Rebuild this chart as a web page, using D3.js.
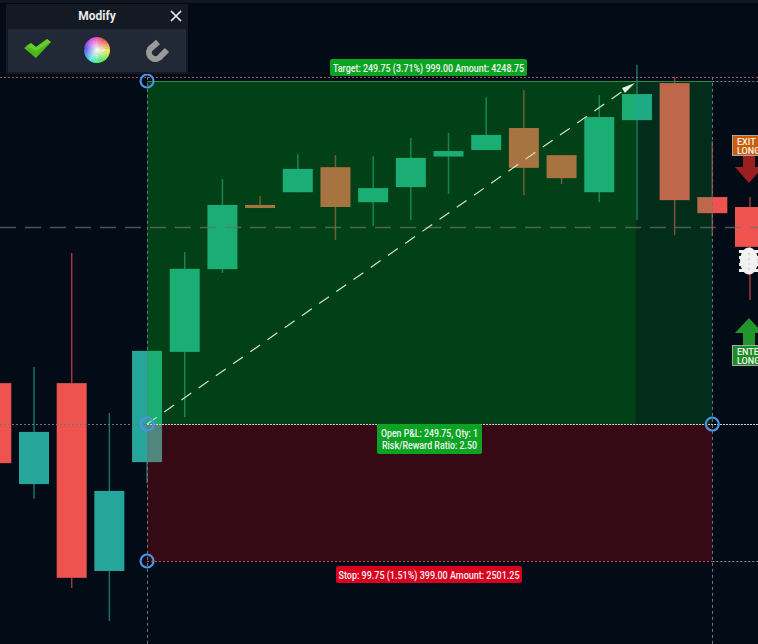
<!DOCTYPE html>
<html>
<head>
<meta charset="utf-8">
<script src="https://cdn.jsdelivr.net/npm/d3@7"></script>
<style>
  html, body { margin: 0; padding: 0; background: #030b16; overflow: hidden; }
  svg { display: block; }
  text { font-family: Roboto, sans-serif; }
</style>
</head>
<body>
<svg id="chart" width="758" height="644"></svg>
<script>
var opens  = [6761.75, 6688.25, 6761.75, 6625.00, 6704.25, 6784.50, 6844.75, 6891.50, 6900.75, 6919.00, 6893.50, 6904.50, 6926.75, 6931.50, 6947.50, 6927.75, 6900.75, 6953.25, 6980.25, 6897.25, 6890.00];
var highs  = [6775.00, 6773.50, 6856.50, 6740.00, 6785.25, 6857.25, 6910.50, 6898.00, 6928.50, 6927.75, 6927.00, 6940.25, 6944.00, 6970.00, 6975.25, 6927.75, 6971.50, 6993.50, 6984.75, 6938.00, 6897.25];
var lows   = [6690.00, 6677.50, 6612.50, 6588.50, 6689.00, 6737.00, 6842.00, 6889.25, 6900.75, 6866.00, 6876.25, 6880.50, 6899.50, 6931.50, 6898.75, 6906.75, 6893.50, 6880.50, 6869.50, 6869.00, 6822.25];
var closes = [6703.50, 6726.25, 6620.00, 6683.25, 6785.25, 6845.00, 6891.50, 6889.25, 6917.75, 6890.00, 6903.75, 6925.75, 6930.75, 6942.50, 6918.50, 6911.00, 6955.50, 6972.25, 6895.00, 6885.50, 6861.00];

var entryPrice = 6732.00;
var targetPrice = 6981.75;
var stopPrice = 6632.25;
var topLine = 6984.75;
var midLine = 6875.50;
var startIndex = 4;
var cursorIndex = 17;
var endIndex = 19;

var targetText = "Target: 249.75 (3.71%) 999.00 Amount: 4248.75";
var stopText = "Stop: 99.75 (1.51%) 399.00 Amount: 2501.25";
var pnlText = ["Open P&L: 249.75, Qty: 1", "Risk/Reward Ratio: 2.50"];

var svg = d3.select("#chart");
var W = 758, H = 644;

var x = d3.scaleLinear().domain([1, 20]).range([34, 750]);
var y = d3.scaleLinear().domain([stopPrice, targetPrice]).range([561, 81]);

svg.append("rect").attr("width", W).attr("height", H).attr("fill", "#030b16");
svg.append("rect").attr("width", W).attr("height", 3).attr("fill", "#10171f");

var candles = opens.map(function (o, i) {
    return { i: i, o: o, h: highs[i], l: lows[i], c: closes[i] };
});
function candleColor(d) { return d.c >= d.o ? "#26a69a" : "#ef5350"; }

// Candles
var candleG = svg.append("g");
candleG.selectAll(".wick")
    .data(candles)
    .enter().append("line")
    .attr("class", "wick")
    .attr("x1", function (d) { return x(d.i); })
    .attr("x2", function (d) { return x(d.i); })
    .attr("y1", function (d) { return y(d.h); })
    .attr("y2", function (d) { return y(d.l); })
    .attr("stroke", candleColor)
    .attr("stroke-opacity", 0.65)
    .attr("stroke-width", 1.5);
candleG.selectAll(".body")
    .data(candles)
    .enter().append("rect")
    .attr("class", "body")
    .attr("x", function (d) { return x(d.i) - 15; })
    .attr("width", 30)
    .attr("y", function (d) { return y(Math.max(d.o, d.c)); })
    .attr("height", function (d) { return Math.abs(y(d.o) - y(d.c)); })
    .attr("fill", candleColor);

// Profit / loss zones
var x0 = x(startIndex), x1 = x(cursorIndex) - 1, x2 = x(endIndex);
svg.append("rect").attr("x", x0).attr("y", y(targetPrice)).attr("width", x1 - x0)
    .attr("height", y(entryPrice) - y(targetPrice)).attr("fill", "rgb(0,190,30)").attr("opacity", 0.3);
svg.append("rect").attr("x", x1).attr("y", y(targetPrice)).attr("width", x2 - x1)
    .attr("height", y(entryPrice) - y(targetPrice)).attr("fill", "rgb(0,183,50)").attr("opacity", 0.2);
svg.append("rect").attr("x", x0).attr("y", y(entryPrice)).attr("width", x2 - x0)
    .attr("height", y(stopPrice) - y(entryPrice)).attr("fill", "rgb(255,10,20)").attr("opacity", 0.2);

// Level lines
function hline(price, x1, x2, color, dash, w, op) {
    svg.append("line").attr("x1", x1).attr("x2", x2).attr("y1", Math.round(y(price)) + 0.5).attr("y2", Math.round(y(price)) + 0.5)
        .attr("stroke", color).attr("stroke-width", w || 1)
        .attr("stroke-dasharray", dash).attr("stroke-opacity", op || 1);
}
hline(midLine, 0, W, "#6b7272", "16 9", 1.5, 0.7);
hline(topLine, 0, W, "#c9616c", "2 2", 1, 0.8);
hline(targetPrice, x0, x2, "#2e8b47", null, 1);
hline(targetPrice, x2, W, "#7d8288", "2 2", 1);
hline(entryPrice, x0, W, "#cfd4cf", "2 1", 1);
hline(entryPrice, 0, x0, "#6f747a", "2 2", 1);
hline(stopPrice, x0, x2, "#c94a58", "2 2", 1);
hline(stopPrice, x2, W, "#8a8f96", "2 2", 1);

svg.selectAll(".vline")
    .data([startIndex, endIndex])
    .enter().append("line")
    .attr("class", "vline")
    .attr("x1", function (d) { return Math.round(x(d)) + 0.5; })
    .attr("x2", function (d) { return Math.round(x(d)) + 0.5; })
    .attr("y1", y(topLine))
    .attr("y2", H)
    .attr("stroke", "#6f757c")
    .attr("stroke-dasharray", "3 3");

// Diagonal arrow
var ax0 = x(startIndex), ay0 = y(entryPrice), ax1 = x(cursorIndex) - 2, ay1 = y(targetPrice) + 2;
svg.append("line").attr("x1", ax0).attr("y1", ay0).attr("x2", ax1 - 12).attr("y2", ay1 + 8)
    .attr("stroke", "#cfe6cf").attr("stroke-width", 1.2).attr("stroke-dasharray", "12 9");
svg.append("path")
    .attr("d", "M" + ax1 + "," + ay1 + "L" + (ax1 - 13) + "," + (ay1 + 5) + "L" + (ax1 - 10) + "," + (ay1 + 10) + "Z")
    .attr("fill", "#e6f2e6");

// Handles
svg.selectAll(".handle")
    .data([[startIndex, targetPrice], [startIndex, entryPrice], [startIndex, stopPrice], [endIndex, entryPrice]])
    .enter().append("circle")
    .attr("class", "handle")
    .attr("cx", function (d) { return x(d[0]); })
    .attr("cy", function (d) { return y(d[1]); })
    .attr("r", 6.5)
    .attr("fill", "none")
    .attr("stroke", "#4a95e0")
    .attr("stroke-width", 2.2);

// Labels
function label(lines, widths, cx, top, w, h, fill) {
    svg.append("rect").attr("x", cx - w / 2).attr("y", top).attr("width", w).attr("height", h)
        .attr("rx", 2).attr("fill", fill);
    lines.forEach(function (t, i) {
        svg.append("text").attr("x", cx).attr("y", top + 12.5 + i * 12)
            .attr("text-anchor", "middle").attr("fill", "#f2f7f2")
            .attr("font-size", 10).attr("font-weight", 500)
            .attr("textLength", widths[i]).attr("lengthAdjust", "spacingAndGlyphs").text(t);
    });
}
label([targetText], [191], 428.5, 59, 197, 17, "#0aa322");
label(pnlText, [97, 95], 429.5, 424, 105, 30, "#0aa322");
label([stopText], [181], 429, 566, 186, 17, "#d9001f");

// Signal markers at the right edge
svg.append("path").attr("d", "M743,156h12v11h8l-14,16l-14,-16h8z").attr("fill", "#9a1f1f");
svg.append("rect").attr("x", 732.5).attr("y", 135.5).attr("width", 40).attr("height", 20)
    .attr("fill", "#cc5c00").attr("stroke", "#a8a8a8");
svg.append("path").attr("d", "M743,345v-12h-8l14,-15l14,15h-8v12z").attr("fill", "#22952c");
svg.append("rect").attr("x", 732.5).attr("y", 345.5).attr("width", 40).attr("height", 20)
    .attr("fill", "#1a8e22").attr("stroke", "#a8a8a8");
[["EXIT", 145], ["LONG", 154], ["ENTER", 355], ["LONG", 364]].forEach(function (d) {
    svg.append("text").attr("x", 737).attr("y", d[1]).attr("fill", "#f4f4f4")
        .attr("font-size", 9).attr("font-weight", 500).text(d[0]);
});

// White bug marker
var bug = svg.append("g").attr("fill", "#f2f2f2");
bug.append("ellipse").attr("cx", 749).attr("cy", 261).attr("rx", 9).attr("ry", 13.5);
[250, 256, 263, 269].forEach(function (v) {
    bug.append("rect").attr("x", 739).attr("y", v).attr("width", 20).attr("height", 3);
});
bug.append("line").attr("x1", 749).attr("x2", 749).attr("y1", 253).attr("y2", 270)
    .attr("stroke", "#b8b8bc").attr("stroke-dasharray", "2 3");

// Modify panel
var panel = svg.append("g");
panel.append("rect").attr("x", 6).attr("y", 4).attr("width", 182).attr("height", 70).attr("fill", "#131a24");
panel.append("rect").attr("x", 8).attr("y", 29).attr("width", 178).attr("height", 43).attr("fill", "#212936");
panel.append("text").attr("x", 97).attr("y", 20).attr("text-anchor", "middle")
    .attr("fill", "#e8e8e8").attr("font-size", 12).attr("font-weight", 700).text("Modify");
panel.append("path").attr("d", "M171,11L181,21M181,11L171,21").attr("stroke", "#f0f0f0").attr("stroke-width", 1.6);

// check icon
panel.append("path").attr("d", "M24,48L31,43L36,47L47,39L51,42L36,58Z").attr("fill", "#4cb81a");
panel.append("path").attr("d", "M31,43L36,47L47,39L51,42L36,51L26,46Z").attr("fill", "#7ad63a").attr("opacity", 0.6);

// colour wheel icon
var wheelG = panel.append("g").attr("transform", "translate(97,50)");
var wedge = d3.arc().innerRadius(0).outerRadius(13);
d3.range(36).forEach(function (i) {
    wheelG.append("path")
        .attr("d", wedge({ startAngle: i * Math.PI / 18, endAngle: (i + 1.1) * Math.PI / 18 }))
        .attr("fill", d3.hsl(i * 10 - 30, 0.8, 0.6));
});
var grad = svg.append("defs").append("radialGradient").attr("id", "wheelGlow");
grad.append("stop").attr("offset", "0%").attr("stop-color", "#fff").attr("stop-opacity", 1);
grad.append("stop").attr("offset", "55%").attr("stop-color", "#fff").attr("stop-opacity", 0.45);
grad.append("stop").attr("offset", "100%").attr("stop-color", "#fff").attr("stop-opacity", 0);
wheelG.append("circle").attr("r", 13).attr("fill", "url(#wheelGlow)");

// magnet icon
panel.append("path")
    .attr("d", "M158,42L150,49A6,6 0 0 0 161,56L167,50")
    .attr("fill", "none").attr("stroke", "#9a9a96").attr("stroke-width", 6);
</script>
</body>
</html>
